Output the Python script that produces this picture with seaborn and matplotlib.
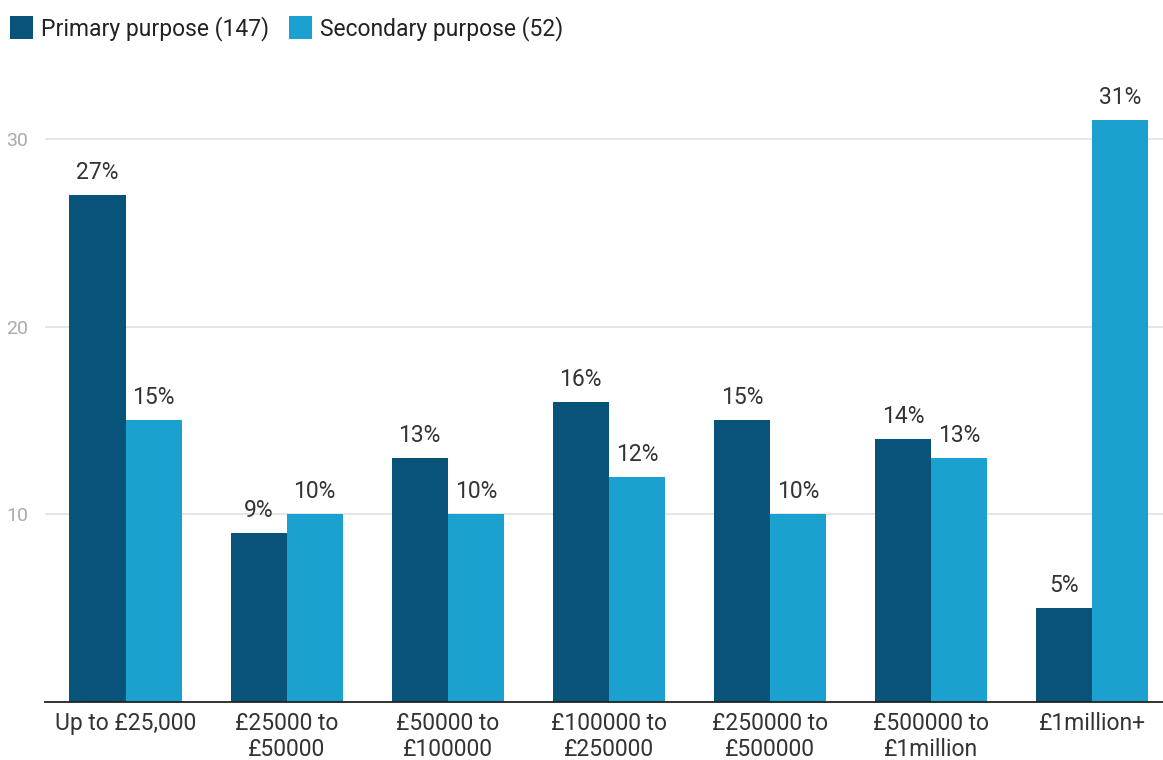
import matplotlib
matplotlib.use("Agg")
import matplotlib.pyplot as plt
from matplotlib.patches import Patch
import pandas as pd
import seaborn as sns

# Funding bands and share of organisations in each band
bands = ["Up to £25,000", "£25000 to\n£50000", "£50000 to\n£100000", "£100000 to\n£250000",
         "£250000 to\n£500000", "£500000 to\n£1million", "£1million+"]
primary = [27, 9, 13, 16, 15, 14, 5]
secondary = [15, 10, 10, 12, 10, 13, 31]
series_names = ["Primary purpose (147)", "Secondary purpose (52)"]
colors = ["#07537A", "#1AA1CF"]
y_ticks = [10, 20, 30]

df = pd.DataFrame({
    "band": bands * 2,
    "value": primary + secondary,
    "series": [series_names[0]] * len(bands) + [series_names[1]] * len(bands),
})

sns.set_theme(style="white")
plt.rcParams["font.family"] = ["Roboto", "DejaVu Sans"]

fig = plt.figure(figsize=(11.63, 7.6), dpi=100)
ax = fig.add_axes([0.0387, 0.0763, 0.9613, 0.8026])

sns.barplot(data=df, x="band", y="value", hue="series", palette=colors,
            width=0.696, saturation=1, ax=ax, legend=False, errorbar=None,
            linewidth=0)

for cont in ax.containers:
    ax.bar_label(cont, labels=[f"{v:.0f}%" for v in cont.datavalues],
                 padding=8, fontsize=16.5, color="#333333")

ax.set_xlim(-0.5, 6.44)
ax.set_ylim(0, 32.5)
ax.set_yticks(y_ticks)
ax.set_yticklabels([str(t) for t in y_ticks], fontsize=14, color="#aaaaaa")
ax.tick_params(axis="y", length=0, pad=12)
ax.tick_params(axis="x", length=0, pad=7, labelsize=16.5, labelcolor="#333333")
for lbl in ax.get_xticklabels():
    lbl.set_linespacing(1.2)
ax.set_xlabel("")
ax.set_ylabel("")
ax.yaxis.grid(True, color="#e3e3e3", linewidth=1.3)
ax.set_axisbelow(True)
for side in ["top", "right", "left"]:
    ax.spines[side].set_visible(False)
ax.spines["bottom"].set_color("#222222")
ax.spines["bottom"].set_linewidth(1.3)

handles = [Patch(facecolor=c, edgecolor="none") for c in colors]
fig.legend(handles, series_names, loc="upper left", bbox_to_anchor=(0.0, 0.993),
           ncol=2, frameon=False, fontsize=16.5, handlelength=1.0, handleheight=1.2,
           handletextpad=0.35, columnspacing=0.85, borderaxespad=0.05,
           borderpad=0.4, labelcolor="#222222")

fig.savefig("out.png", dpi=100)
